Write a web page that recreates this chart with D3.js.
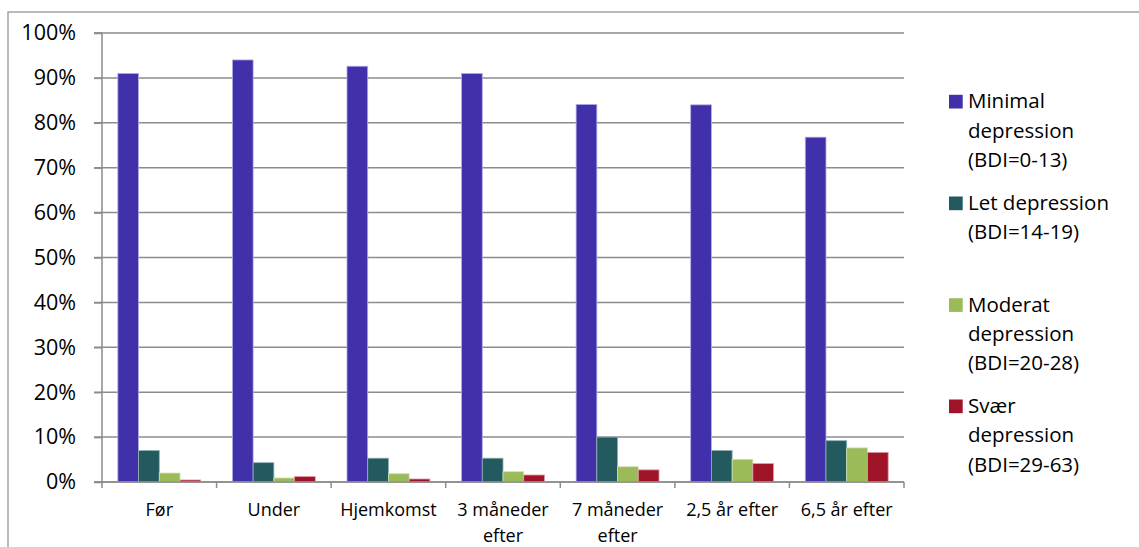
<!DOCTYPE html>
<html>
<head>
<meta charset="utf-8">
<script src="https://cdn.jsdelivr.net/npm/d3@7/dist/d3.min.js"></script>
<style>
  html, body { margin: 0; padding: 0; background: #fff; }
  svg { display: block; }
  text { font-family: "Open Sans", "Liberation Sans", sans-serif; fill: #000; }
</style>
</head>
<body>
<svg id="chart" width="1139" height="547"></svg>
<script>
const categories = [["Før"], ["Under"], ["Hjemkomst"], ["3 måneder", "efter"], ["7 måneder", "efter"], ["2,5 år efter"], ["6,5 år efter"]];
const seriesNames = [
  ["Minimal", "depression", "(BDI=0-13)"],
  ["Let depression", "(BDI=14-19)"],
  ["Moderat", "depression", "(BDI=20-28)"],
  ["Svær", "depression", "(BDI=29-63)"]
];
const minimal  = [91.0, 94.0, 92.6, 91.0, 84.1, 84.0, 76.8];
const let_     = [7.0, 4.3, 5.3, 5.3, 10.0, 7.0, 9.2];
const moderat  = [2.0, 0.9, 1.85, 2.3, 3.4, 5.05, 7.6];
const svaer    = [0.45, 1.2, 0.67, 1.56, 2.7, 4.1, 6.6];
const yTicks = [0, 10, 20, 30, 40, 50, 60, 70, 80, 90, 100];
const colors = ["#4030A9", "#235A60", "#9BBB59", "#A0142A"];
const strokes = ["#b4aee6", "#8fb0b3", "#d2e2b0", "#e29aa5"];

const seriesValues = [minimal, let_, moderat, svaer];
const svg = d3.select("#chart");

// outer frame
svg.append("rect").attr("x", 8).attr("y", 12).attr("width", 1200).attr("height", 600)
  .attr("fill", "none").attr("stroke", "#8c8c8c").attr("stroke-width", 1.2);

const plot = { left: 102, right: 904, top: 33, bottom: 482 };
const y = d3.scaleLinear().domain([0, 100]).range([plot.bottom, plot.top]);
const x0 = d3.scaleBand().domain(d3.range(categories.length)).range([plot.left, plot.right]).padding(0);
const gap = x0.bandwidth() * 0.2765;
const x1 = d3.scaleBand().domain(d3.range(seriesValues.length)).range([gap / 2, x0.bandwidth() - gap / 2]).padding(0);

// gridlines
svg.append("g").selectAll("line").data(yTicks).join("line")
  .attr("x1", plot.left - 8).attr("x2", plot.right)
  .attr("y1", d => y(d)).attr("y2", d => y(d))
  .attr("stroke", "#8c8c8c").attr("stroke-width", 1.5);

// y axis
const yAxis = d3.axisLeft(y).tickValues(yTicks).tickFormat(d => d + "%").tickSize(8).tickPadding(18);
const gy = svg.append("g").attr("transform", `translate(${plot.left},0)`).call(yAxis);
gy.select(".domain").attr("stroke", "#8c8c8c").attr("stroke-width", 1.5).attr("d", `M-8,${plot.top}H0V${plot.bottom}H-8`);
gy.selectAll(".tick line").attr("stroke", "#8c8c8c").attr("stroke-width", 1.5);
gy.selectAll(".tick text").attr("font-size", 21.5).attr("font-family", "'Open Sans', sans-serif").attr("fill", "#000");

// bars
const groups = svg.append("g").selectAll("g").data(categories).join("g")
  .attr("transform", (d, i) => `translate(${x0(i)},0)`);
groups.selectAll("rect").data((d, i) => seriesValues.map((s, j) => ({ j, v: s[i] }))).join("rect")
  .attr("x", d => x1(d.j)).attr("width", x1.bandwidth())
  .attr("y", d => y(d.v)).attr("height", d => y(0) - y(d.v))
  .attr("fill", d => colors[d.j]).attr("stroke", d => strokes[d.j]).attr("stroke-width", 0.8);

// x axis
const boundaries = d3.range(categories.length + 1).map(i => i < categories.length ? x0(i) : x0(categories.length - 1) + x0.bandwidth());
svg.append("line").attr("x1", plot.left).attr("x2", plot.right).attr("y1", plot.bottom).attr("y2", plot.bottom)
  .attr("stroke", "#8c8c8c").attr("stroke-width", 1.5);
svg.append("g").selectAll("line").data(boundaries).join("line")
  .attr("x1", d => d).attr("x2", d => d).attr("y1", plot.bottom).attr("y2", plot.bottom + 6)
  .attr("stroke", "#8c8c8c").attr("stroke-width", 1.5);
const xl = svg.append("g").selectAll("text").data(categories).join("text")
  .attr("x", (d, i) => x0(i) + x0.bandwidth() / 2).attr("y", 515.5)
  .attr("text-anchor", "middle").attr("font-size", 18);
xl.selectAll("tspan").data(d => d).join("tspan")
  .attr("x", function () { return this.parentNode.getAttribute("x"); })
  .attr("dy", (d, k) => k === 0 ? 0 : 26).text(d => d);

// legend
const legendTops = [108.3, 210, 311.7, 413];
const lg = svg.append("g").selectAll("g").data(seriesNames).join("g");
lg.append("rect").attr("x", 949).attr("y", (d, i) => legendTops[i] - 13.5)
  .attr("width", 13.7).attr("height", 13.7).attr("fill", (d, i) => colors[i]);
const lt = lg.append("text").attr("x", 968).attr("y", (d, i) => legendTops[i]).attr("font-size", 20.5);
lt.selectAll("tspan").data(d => d).join("tspan").attr("x", 968)
  .attr("dy", (d, k) => k === 0 ? 0 : 29.3).text(d => d);
</script>
</body>
</html>
